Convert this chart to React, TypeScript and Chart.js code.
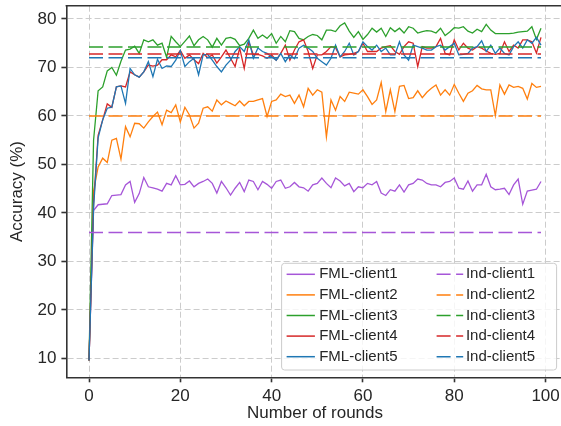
import React, { useEffect, useRef } from "react";
import { Chart, registerables } from "chart.js";

Chart.register(...registerables);

// ---------- data ----------
const ROUNDS: number[] = Array.from({ length: 100 }, (_, i) => i);

const FML_CLIENT1 = [
  9.6, 40.5, 41.7, 41.8, 41.9, 43.6, 43.7, 43.8, 45.8, 46.5,
  42.2, 44.0, 47.3, 45.4, 45.2, 44.9, 44.5, 46.1, 45.8, 47.7,
  45.8, 45.9, 46.6, 45.4, 46.1, 46.5, 47.0, 46.1, 44.1, 46.5,
  45.2, 43.7, 45.1, 46.3, 44.4, 46.8, 46.5, 44.8, 46.5, 45.9,
  45.1, 46.5, 46.8, 45.1, 45.4, 46.3, 45.4, 45.2, 44.5, 45.8,
  46.1, 47.2, 46.1, 45.2, 47.2, 46.6, 45.6, 46.1, 44.4, 45.4,
  45.2, 46.1, 45.8, 46.5, 44.1, 43.6, 44.8, 44.5, 45.8, 44.3,
  45.8, 46.1, 47.0, 46.8, 46.1, 45.8, 45.8, 45.4, 46.3, 46.5,
  47.2, 45.1, 44.9, 46.6, 44.5, 45.8, 45.8, 48.0, 45.4, 44.8,
  44.9, 45.1, 43.8, 45.8, 47.0, 41.8, 44.5, 44.7, 44.9, 46.5,
];

const FML_CLIENT2 = [
  9.6, 44.5, 49.5, 51.3, 50.4, 55.0, 55.4, 51.1, 57.8, 55.7,
  58.5, 58.4, 57.5, 58.8, 59.9, 60.8, 58.2, 61.2, 60.7, 62.3,
  58.8, 61.8, 60.2, 57.5, 58.5, 61.6, 61.9, 61.0, 63.3, 62.3,
  63.1, 62.6, 62.1, 63.1, 62.1, 63.0, 63.0, 63.3, 63.6, 59.9,
  63.0, 63.3, 64.5, 64.0, 64.3, 62.6, 64.3, 61.9, 65.7, 64.3,
  65.4, 64.9, 55.7, 63.3, 61.2, 64.0, 63.0, 64.9, 64.7, 64.5,
  65.4, 64.0, 62.4, 63.3, 66.9, 60.9, 65.4, 60.9, 66.1, 66.3,
  63.6, 63.8, 65.2, 63.8, 64.9, 65.7, 66.4, 64.3, 65.4, 64.3,
  66.5, 64.7, 63.0, 64.7, 65.2, 66.3, 65.6, 65.4, 65.4, 60.1,
  66.4, 64.5, 66.4, 65.9, 66.1, 65.7, 63.5, 66.7, 65.9, 66.1,
];

const FML_CLIENT3 = [
  9.6, 55.0, 65.2, 66.0, 69.3, 70.0, 68.4, 71.3, 73.6, 73.8,
  74.4, 72.9, 75.7, 75.3, 75.7, 74.6, 75.0, 72.1, 76.4, 75.3,
  74.3, 75.4, 76.5, 74.5, 75.7, 76.4, 75.7, 74.2, 76.0, 74.6,
  76.0, 76.2, 75.8, 74.5, 74.8, 76.0, 77.7, 76.0, 76.7, 76.0,
  77.0, 75.0, 76.4, 75.3, 77.6, 77.4, 76.0, 75.7, 76.4, 76.8,
  76.6, 75.7, 77.7, 77.7, 77.4, 78.6, 79.2, 77.5, 76.2, 77.4,
  75.8, 76.8, 78.1, 77.3, 78.1, 76.4, 78.2, 77.4, 78.1, 77.1,
  78.4, 78.1, 77.1, 77.4, 77.6, 77.5, 77.1, 78.1, 76.6, 77.3,
  78.2, 78.1, 78.4, 77.5, 77.1, 77.9, 77.4, 78.9, 77.7, 77.0,
  77.0, 77.0, 77.0, 77.1, 77.3, 77.4, 77.5, 78.4, 75.8, 78.1,
];

const FML_CLIENT4 = [
  9.6, 42.0, 56.0, 59.2, 62.5, 61.8, 66.0, 66.2, 66.0, 69.1,
  68.5, 68.0, 69.1, 70.5, 70.3, 70.5, 71.6, 71.6, 72.6, 72.2,
  73.5, 71.9, 72.6, 71.6, 70.8, 72.9, 72.0, 72.6, 70.9, 72.2,
  73.6, 71.9, 70.2, 74.0, 69.8, 75.3, 72.6, 72.7, 72.4, 71.9,
  72.6, 71.5, 72.9, 74.6, 71.5, 73.6, 75.3, 75.7, 73.3, 69.8,
  72.6, 72.6, 73.3, 74.3, 74.1, 72.2, 72.6, 72.7, 72.9, 73.3,
  75.0, 73.3, 73.3, 73.3, 74.0, 74.3, 74.5, 73.3, 72.7, 74.3,
  75.3, 75.0, 70.2, 74.3, 74.0, 74.0, 74.3, 76.0, 72.9, 72.6,
  75.7, 73.6, 75.0, 74.0, 73.6, 74.3, 74.0, 73.4, 72.9, 72.7,
  72.9, 75.3, 73.3, 74.6, 74.0, 75.7, 75.7, 75.3, 73.0, 76.2,
];

const FML_CLIENT5 = [
  9.6, 41.0, 55.5, 59.2, 61.6, 61.8, 66.0, 66.2, 62.6, 69.8,
  68.5, 68.0, 69.1, 71.2, 68.1, 71.7, 69.8, 70.3, 70.2, 71.5,
  73.5, 70.2, 71.2, 71.9, 68.5, 72.6, 72.7, 71.5, 70.2, 69.1,
  70.5, 71.5, 73.3, 74.3, 73.3, 75.7, 71.9, 74.0, 73.3, 72.9,
  72.2, 71.5, 72.9, 71.2, 72.6, 71.8, 74.0, 74.6, 74.0, 73.3,
  71.9, 71.2, 70.5, 71.9, 74.6, 72.2, 73.3, 75.0, 72.6, 73.3,
  75.3, 74.3, 73.6, 74.6, 73.3, 74.0, 72.6, 72.6, 75.3, 72.6,
  71.5, 74.6, 74.3, 74.0, 73.6, 73.6, 74.3, 74.6, 73.6, 74.3,
  75.0, 72.6, 72.7, 72.9, 74.0, 74.3, 75.5, 73.3, 74.6, 72.9,
  74.0, 72.9, 72.6, 74.3, 75.3, 74.0, 75.7, 75.0, 76.2, 74.6,
];

const IND_VALUES = [36.0, 60.0, 74.2, 72.8, 72.0];

const FML_LABELS = ["FML-client1", "FML-client2", "FML-client3", "FML-client4", "FML-client5"];
const IND_LABELS = ["Ind-client1", "Ind-client2", "Ind-client3", "Ind-client4", "Ind-client5"];
const COLORS = ["#a656d8", "#ff7f0e", "#2ca02c", "#d62728", "#1f77b4"];

const X_TICKS = [0, 20, 40, 60, 80, 100];
const Y_TICKS = [10, 20, 30, 40, 50, 60, 70, 80];
const X_TITLE = "Number of rounds";
const Y_TITLE = "Accuracy (%)";

// ---------- style ----------
const FONT = "'Liberation Sans', Arial, sans-serif";
const TEXT = "#262626";
const SPINE = "#333333";
const GRID = "#cccccc";
const DASH = [14, 5.5];

const FML_SERIES = [FML_CLIENT1, FML_CLIENT2, FML_CLIENT3, FML_CLIENT4, FML_CLIENT5];

const framePlugin = {
  id: "frameAndLegend",
  afterDraw(chart: any) {
    const { ctx, chartArea } = chart;
    const { left, right, top, bottom } = chartArea;
    ctx.save();
    // top spine (right spine lies outside the visible window)
    ctx.strokeStyle = SPINE;
    ctx.lineWidth = 1.6;
    ctx.beginPath();
    ctx.moveTo(left - 0.8, top);
    ctx.lineTo(right + 10, top);
    ctx.stroke();

    // legend (two columns)
    const w = 275;
    const h = 106.7;
    const lx = right - 7 - w;
    const ly = bottom - 7.3 - h;
    ctx.beginPath();
    if ((ctx as any).roundRect) (ctx as any).roundRect(lx, ly, w, h, 3);
    else ctx.rect(lx, ly, w, h);
    ctx.fillStyle = "rgba(255,255,255,0.8)";
    ctx.fill();
    ctx.strokeStyle = "#cccccc";
    ctx.lineWidth = 1;
    ctx.stroke();

    ctx.font = `15px ${FONT}`;
    ctx.textBaseline = "middle";
    ctx.textAlign = "left";
    for (let r = 0; r < FML_LABELS.length; r++) {
      const y = ly + 11 + r * 20.6;
      // column 1
      ctx.setLineDash([]);
      ctx.strokeStyle = COLORS[r];
      ctx.lineWidth = 1.5;
      ctx.beginPath();
      ctx.moveTo(lx + 5, y);
      ctx.lineTo(lx + 33.3, y);
      ctx.stroke();
      ctx.fillStyle = TEXT;
      ctx.fillText(FML_LABELS[r], lx + 37.6, y);
      // column 2
      ctx.setLineDash(DASH);
      ctx.beginPath();
      ctx.moveTo(lx + 155, y);
      ctx.lineTo(lx + 181.6, y);
      ctx.stroke();
      ctx.setLineDash([]);
      ctx.fillText(IND_LABELS[r], lx + 184.3, y);
    }
    ctx.restore();
  },
};

export default function App() {
  const ref = useRef<HTMLCanvasElement | null>(null);

  useEffect(() => {
    if (!ref.current) return;
    const n = FML_SERIES.length;
    const fmlSets = FML_SERIES.map((series, k) => ({
      label: FML_LABELS[k],
      data: ROUNDS.map((r, i) => ({ x: r, y: series[i] })),
      borderColor: COLORS[k],
      backgroundColor: COLORS[k],
      borderWidth: 1.3,
      pointRadius: 0,
      tension: 0,
      fill: false,
      order: 2 * n - k,
    }));
    const indSets = IND_VALUES.map((v, k) => ({
      label: IND_LABELS[k],
      data: [
        { x: ROUNDS[0], y: v },
        { x: ROUNDS[ROUNDS.length - 1], y: v },
      ],
      borderColor: COLORS[k],
      backgroundColor: COLORS[k],
      borderWidth: 1.5,
      borderDash: DASH,
      pointRadius: 0,
      tension: 0,
      fill: false,
      order: n - k,
    }));

    const chart = new Chart(ref.current, {
      type: "line",
      data: { datasets: [...fmlSets, ...indSets] as any },
      plugins: [framePlugin],
      options: {
        animation: false,
        responsive: false,
        devicePixelRatio: 1,
        layout: { padding: { left: 0, right: 6.4, top: 5.7, bottom: 0 } },
        plugins: {
          legend: { display: false },
          tooltip: { enabled: false },
        },
        scales: {
          x: {
            type: "linear",
            min: -4.95,
            max: 103.95,
            afterBuildTicks: (scale: any) => {
              scale.ticks = X_TICKS.map((v) => ({ value: v }));
            },
            afterFit: (scale: any) => {
              scale.height = 48.7;
              scale.paddingLeft = 0;
              scale.paddingRight = 0;
            },
            grid: {
              color: GRID,
              lineWidth: 1,
              drawTicks: true,
              tickLength: 5,
              tickColor: SPINE,
              tickWidth: 1.6,
              tickBorderDash: [],
            },
            border: { display: true, color: SPINE, width: 1.6, dash: [6, 3] },
            ticks: {
              color: TEXT,
              font: { family: FONT, size: 17 },
              padding: 4.2,
              maxRotation: 0,
              autoSkip: false,
            },
            title: {
              display: true,
              text: X_TITLE,
              color: TEXT,
              font: { family: FONT, size: 17 },
              padding: { top: 0, bottom: 2.8 },
            },
          },
          y: {
            type: "linear",
            min: 6.12,
            max: 82.74,
            afterBuildTicks: (scale: any) => {
              scale.ticks = Y_TICKS.map((v) => ({ value: v }));
            },
            afterFit: (scale: any) => {
              scale.width = 66.4;
              scale.paddingTop = 0;
              scale.paddingBottom = 0;
            },
            grid: {
              color: GRID,
              lineWidth: 1,
              drawTicks: true,
              tickLength: 5,
              tickColor: SPINE,
              tickWidth: 1.6,
              tickBorderDash: [],
            },
            border: { display: true, color: SPINE, width: 1.6, dash: [6, 3] },
            ticks: {
              color: TEXT,
              font: { family: FONT, size: 17 },
              padding: 5,
              autoSkip: false,
            },
            title: {
              display: true,
              text: Y_TITLE,
              color: TEXT,
              font: { family: FONT, size: 17 },
              padding: { top: 6.8, bottom: 0 },
            },
          },
        },
      } as any,
    });
    return () => chart.destroy();
  }, []);

  return (
    <div
      style={{
        position: "fixed",
        left: 0,
        top: 0,
        width: 561,
        height: 426,
        overflow: "hidden",
        background: "#ffffff",
      }}
    >
      <canvas ref={ref} width={570} height={426} style={{ display: "block", width: 570, height: 426 }} />
    </div>
  );
}
